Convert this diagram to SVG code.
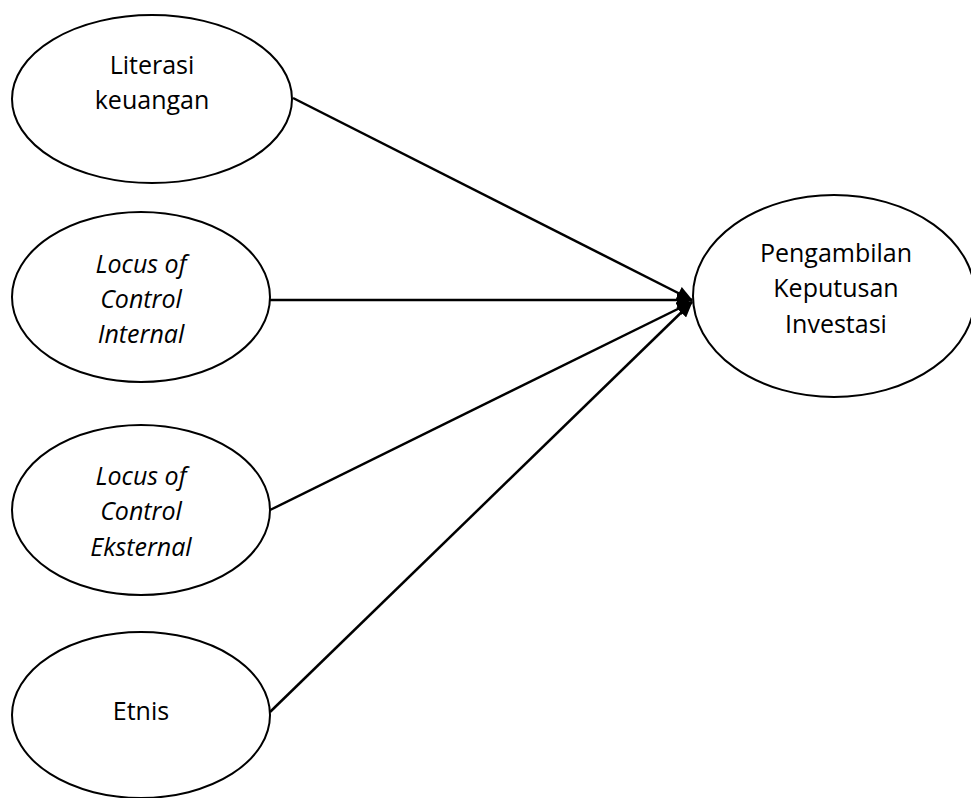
<svg xmlns="http://www.w3.org/2000/svg" width="971" height="798" viewBox="0 0 971 798">
<style>
.node ellipse{fill:#fff;stroke:#000;stroke-width:2}
.node text{font-family:"Open Sans","Liberation Sans",sans-serif;font-size:25px;fill:#000;text-anchor:middle}
.it{font-style:italic}
.conn line{stroke:#000;stroke-width:2.5;marker-end:url(#ah)}
</style>
<defs>
<marker id="ah" markerUnits="userSpaceOnUse" markerWidth="16" markerHeight="14" refX="15" refY="7" orient="auto">
<path d="M0,0 L16,7 L0,14 Z" fill="#000"/>
</marker>
</defs>
<rect width="971" height="798" fill="#fff"/>
<g id="connectors" class="conn">
<line x1="293" y1="98" x2="692" y2="300"/>
<line x1="270" y1="300" x2="692" y2="300"/>
<line x1="270" y1="510" x2="692" y2="302"/>
<line x1="270" y1="712" x2="692" y2="302"/>
</g>
<g id="n-literasi" class="node">
<ellipse cx="152" cy="99" rx="140" ry="84"/>
<text x="152" y="74">Literasi</text>
<text x="152" y="109">keuangan</text>
</g>
<g id="n-internal" class="node">
<ellipse cx="141" cy="297" rx="129" ry="85"/>
<text class="it" x="141" y="273">Locus of</text>
<text class="it" x="141" y="308">Control</text>
<text class="it" x="141" y="343">Internal</text>
</g>
<g id="n-eksternal" class="node">
<ellipse cx="141" cy="510" rx="129" ry="85"/>
<text class="it" x="141" y="485">Locus of</text>
<text class="it" x="141" y="520">Control</text>
<text class="it" x="141" y="556">Eksternal</text>
</g>
<g id="n-etnis" class="node">
<ellipse cx="141" cy="715" rx="129" ry="83"/>
<text x="141" y="720">Etnis</text>
</g>
<g id="n-keputusan" class="node">
<ellipse cx="834" cy="296" rx="141" ry="101"/>
<text x="836" y="262">Pengambilan</text>
<text x="836" y="297">Keputusan</text>
<text x="836" y="333">Investasi</text>
</g>
</svg>
